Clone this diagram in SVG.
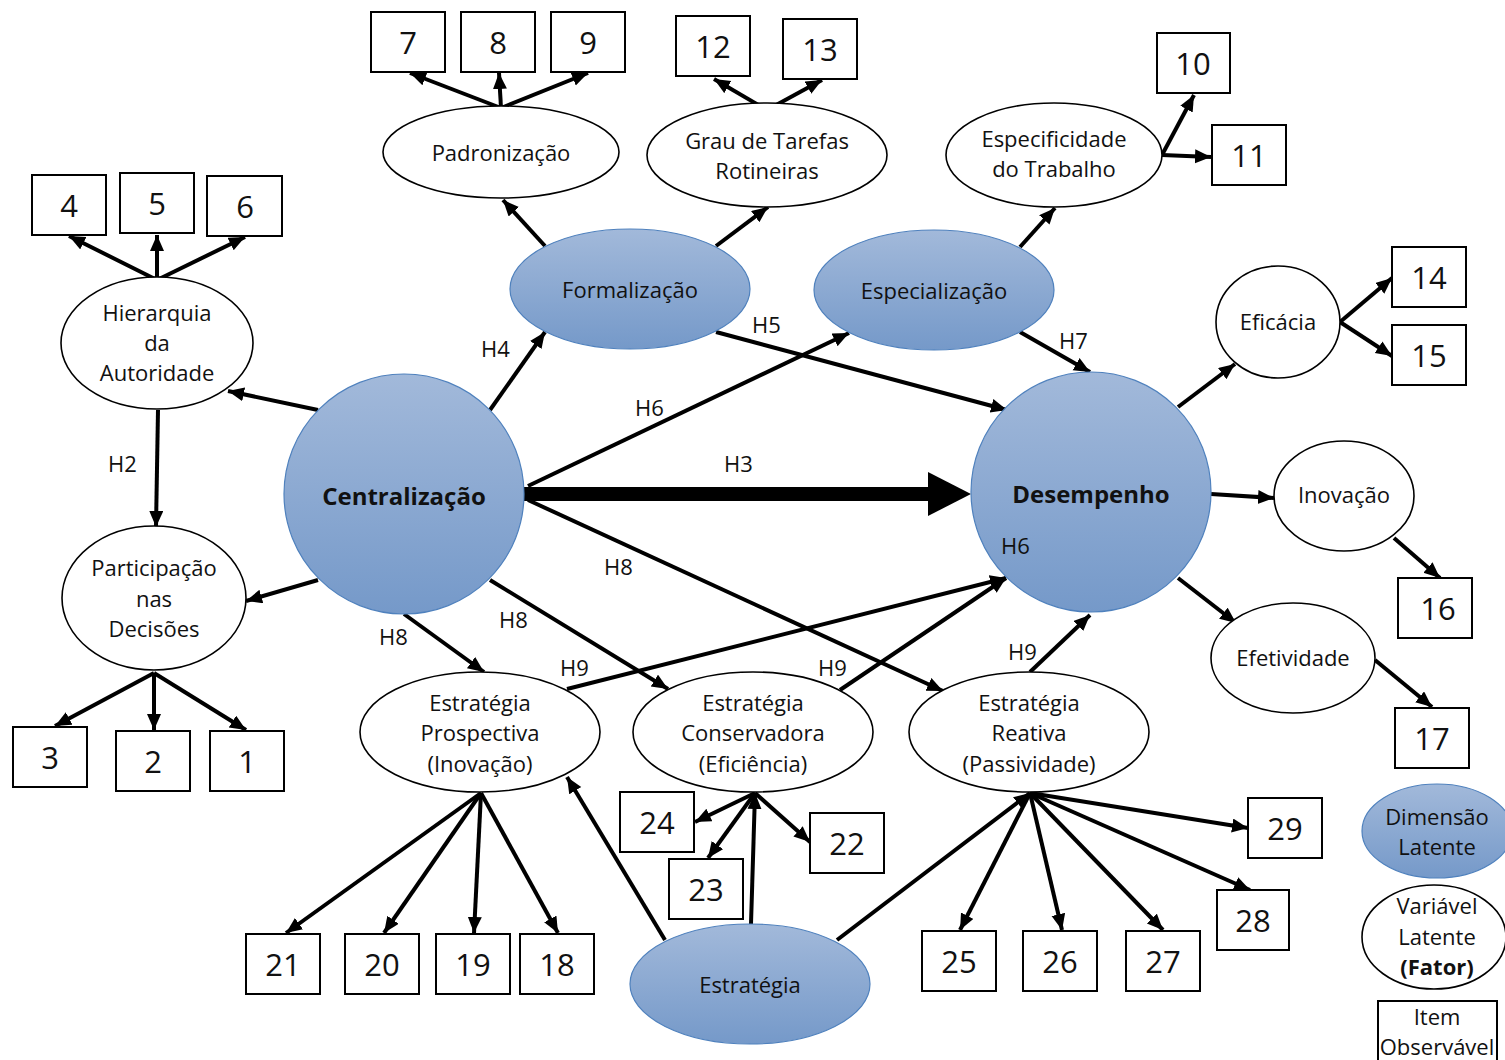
<svg xmlns="http://www.w3.org/2000/svg" width="1505" height="1060" viewBox="0 0 1505 1060">
<style>
.t{font-family:"Open Sans","Noto Sans","Liberation Sans",sans-serif;font-size:22px;fill:#111;text-anchor:middle;dominant-baseline:central}
.b{font-weight:bold;font-size:24px}
.n{font-size:31px}
.h{font-family:"Open Sans","Noto Sans","Liberation Sans",sans-serif;font-size:22px;fill:#111}
.lat{fill:url(#g);stroke:#4f81bd;stroke-width:1.2}
.var{fill:#fff;stroke:#000;stroke-width:1.6}
.box{fill:#fff;stroke:#000;stroke-width:2}
.c line{stroke:#000;stroke-width:4;fill:none;marker-end:url(#a)}
</style>
<defs>
<linearGradient id="g" x1="0" y1="0" x2="0" y2="1">
<stop offset="0" stop-color="#a2b9da"/>
<stop offset="1" stop-color="#7599c9"/>
</linearGradient>
<marker id="a" markerUnits="userSpaceOnUse" markerWidth="18" markerHeight="16" refX="16" refY="7" orient="auto">
<path d="M0,0 L16,7 L0,14 z" fill="#000"/>
</marker>
</defs>
<rect width="1505" height="1060" fill="#fff"/>

<g class="c" id="connectors">
<line x1="501" y1="108" x2="410" y2="73"/>
<line x1="501" y1="108" x2="499" y2="73"/>
<line x1="501" y1="108" x2="588" y2="73"/>
<line x1="767" y1="110" x2="714" y2="79"/>
<line x1="767" y1="110" x2="822" y2="80"/>
<line x1="1162" y1="155" x2="1194" y2="95"/>
<line x1="1162" y1="155" x2="1211" y2="157"/>
<line x1="157" y1="280" x2="69" y2="236"/>
<line x1="157" y1="280" x2="157" y2="235"/>
<line x1="157" y1="280" x2="245" y2="237"/>
<line x1="545" y1="246" x2="503" y2="200"/>
<line x1="716" y1="246" x2="768" y2="207"/>
<line x1="1020" y1="247" x2="1055" y2="208"/>
<line x1="318" y1="410" x2="228" y2="391"/>
<line x1="158" y1="410" x2="156" y2="527"/>
<line x1="318" y1="580" x2="246" y2="601"/>
<line x1="154" y1="673" x2="55" y2="726"/>
<line x1="154" y1="673" x2="154" y2="730"/>
<line x1="154" y1="673" x2="246" y2="730"/>
<line x1="490" y1="410" x2="545" y2="332"/>
<line x1="716" y1="332" x2="1007" y2="410"/>
<line x1="528" y1="486" x2="849" y2="333"/>
<line x1="1020" y1="332" x2="1090" y2="372"/>
<line x1="528" y1="500" x2="943" y2="691"/>
<line x1="490" y1="580" x2="668" y2="689"/>
<line x1="404" y1="614" x2="484" y2="672"/>
<line x1="567" y1="689" x2="1006" y2="578"/>
<line x1="840" y1="690" x2="1006" y2="578"/>
<line x1="1030" y1="672" x2="1090" y2="615"/>
<line x1="1178" y1="407" x2="1235" y2="364"/>
<line x1="1340" y1="322" x2="1392" y2="278"/>
<line x1="1340" y1="322" x2="1392" y2="356"/>
<line x1="1211" y1="494" x2="1274" y2="498"/>
<line x1="1394" y1="538" x2="1440" y2="578"/>
<line x1="1178" y1="578" x2="1236" y2="623"/>
<line x1="1375" y1="660" x2="1432" y2="707"/>
<line x1="481" y1="793" x2="286" y2="933"/>
<line x1="481" y1="793" x2="384" y2="933"/>
<line x1="481" y1="793" x2="474" y2="933"/>
<line x1="481" y1="793" x2="558" y2="933"/>
<line x1="665" y1="940" x2="567" y2="777"/>
<line x1="751" y1="924" x2="755" y2="793"/>
<line x1="755" y1="793" x2="695" y2="822"/>
<line x1="755" y1="793" x2="708" y2="858"/>
<line x1="755" y1="793" x2="810" y2="842"/>
<line x1="837" y1="940" x2="1030" y2="793"/>
<line x1="1030" y1="793" x2="960" y2="930"/>
<line x1="1030" y1="793" x2="1062" y2="930"/>
<line x1="1030" y1="793" x2="1163" y2="930"/>
<line x1="1030" y1="793" x2="1250" y2="890"/>
<line x1="1030" y1="793" x2="1248" y2="828"/>
<path d="M524,494 L932,494" stroke="#000" stroke-width="14" fill="none"/>
<path d="M928,472 L971,494 L928,516 z" fill="#000"/>
</g>

<g id="labels">
<text class="h" x="108" y="472">H2</text>
<text class="h" x="481" y="357">H4</text>
<text class="h" x="752" y="333">H5</text>
<text class="h" x="635" y="416">H6</text>
<text class="h" x="1059" y="349">H7</text>
<text class="h" x="724" y="472">H3</text>
<text class="h" x="604" y="575">H8</text>
<text class="h" x="499" y="628">H8</text>
<text class="h" x="379" y="645">H8</text>
<text class="h" x="560" y="676">H9</text>
<text class="h" x="818" y="676">H9</text>
<text class="h" x="1008" y="660">H9</text>
</g>

<g id="centralizacao"><circle class="lat" cx="404" cy="494" r="120"/><text class="t b" x="404" y="495">Centralização</text></g>
<g id="desempenho"><circle class="lat" cx="1091" cy="492" r="120"/><text class="t b" x="1091" y="493">Desempenho</text><text class="h" x="1001" y="554">H6</text></g>
<g id="formalizacao"><ellipse class="lat" cx="630" cy="289" rx="120" ry="60"/><text class="t" x="630" y="289">Formalização</text></g>
<g id="especializacao"><ellipse class="lat" cx="934" cy="290" rx="120" ry="60"/><text class="t" x="934" y="290">Especialização</text></g>
<g id="estrategia"><ellipse class="lat" cx="750" cy="984" rx="120" ry="60"/><text class="t" x="750" y="984">Estratégia</text></g>

<g id="padronizacao"><ellipse class="var" cx="501" cy="152" rx="118" ry="46"/><text class="t" x="501" y="152">Padronização</text></g>
<g id="grau"><ellipse class="var" cx="767" cy="155" rx="120" ry="52"/><text class="t" x="767" y="140">Grau de Tarefas</text><text class="t" x="767" y="170">Rotineiras</text></g>
<g id="especificidade"><ellipse class="var" cx="1054" cy="155" rx="108" ry="52"/><text class="t" x="1054" y="138">Especificidade</text><text class="t" x="1054" y="168">do Trabalho</text></g>
<g id="hierarquia"><ellipse class="var" cx="157" cy="343" rx="96" ry="66"/><text class="t" x="157" y="312">Hierarquia</text><text class="t" x="157" y="342">da</text><text class="t" x="157" y="372">Autoridade</text></g>
<g id="participacao"><ellipse class="var" cx="154" cy="598" rx="92" ry="72"/><text class="t" x="154" y="567">Participação</text><text class="t" x="154" y="598">nas</text><text class="t" x="154" y="628">Decisões</text></g>
<g id="eficacia"><ellipse class="var" cx="1278" cy="322" rx="62" ry="56"/><text class="t" x="1278" y="321">Eficácia</text></g>
<g id="inovacao"><ellipse class="var" cx="1344" cy="496" rx="70" ry="55"/><text class="t" x="1344" y="494">Inovação</text></g>
<g id="efetividade"><ellipse class="var" cx="1293" cy="658" rx="82" ry="55"/><text class="t" x="1293" y="657">Efetividade</text></g>
<g id="prospectiva"><ellipse class="var" cx="480" cy="732" rx="120" ry="60"/><text class="t" x="480" y="702">Estratégia</text><text class="t" x="480" y="732">Prospectiva</text><text class="t" x="480" y="763">(Inovação)</text></g>
<g id="conservadora"><ellipse class="var" cx="753" cy="732" rx="120" ry="60"/><text class="t" x="753" y="702">Estratégia</text><text class="t" x="753" y="732">Conservadora</text><text class="t" x="753" y="763">(Eficiência)</text></g>
<g id="reativa"><ellipse class="var" cx="1029" cy="732" rx="120" ry="60"/><text class="t" x="1029" y="702">Estratégia</text><text class="t" x="1029" y="732">Reativa</text><text class="t" x="1029" y="763">(Passividade)</text></g>

<g id="b7"><rect class="box" x="371" y="12" width="74" height="60"/><text class="t n" x="408" y="42">7</text></g>
<g id="b8"><rect class="box" x="461" y="12" width="74" height="60"/><text class="t n" x="498" y="42">8</text></g>
<g id="b9"><rect class="box" x="551" y="12" width="74" height="60"/><text class="t n" x="588" y="42">9</text></g>
<g id="b12"><rect class="box" x="676" y="16" width="74" height="60"/><text class="t n" x="713" y="46">12</text></g>
<g id="b13"><rect class="box" x="783" y="19" width="74" height="60"/><text class="t n" x="820" y="49">13</text></g>
<g id="b10"><rect class="box" x="1157" y="33" width="73" height="60"/><text class="t n" x="1193" y="63">10</text></g>
<g id="b11"><rect class="box" x="1212" y="125" width="74" height="60"/><text class="t n" x="1249" y="155">11</text></g>
<g id="b4"><rect class="box" x="32" y="175" width="74" height="60"/><text class="t n" x="69" y="205">4</text></g>
<g id="b5"><rect class="box" x="120" y="173" width="74" height="60"/><text class="t n" x="157" y="203">5</text></g>
<g id="b6"><rect class="box" x="207" y="176" width="75" height="60"/><text class="t n" x="245" y="206">6</text></g>
<g id="b14"><rect class="box" x="1392" y="247" width="74" height="60"/><text class="t n" x="1429" y="277">14</text></g>
<g id="b15"><rect class="box" x="1392" y="325" width="74" height="60"/><text class="t n" x="1429" y="355">15</text></g>
<g id="b16"><rect class="box" x="1398" y="578" width="74" height="60"/><text class="t n" x="1438" y="608">16</text></g>
<g id="b17"><rect class="box" x="1395" y="708" width="74" height="60"/><text class="t n" x="1432" y="738">17</text></g>
<g id="b3"><rect class="box" x="13" y="727" width="74" height="60"/><text class="t n" x="50" y="757">3</text></g>
<g id="b2"><rect class="box" x="116" y="731" width="74" height="60"/><text class="t n" x="153" y="761">2</text></g>
<g id="b1"><rect class="box" x="210" y="731" width="74" height="60"/><text class="t n" x="247" y="761">1</text></g>
<g id="b24"><rect class="box" x="620" y="792" width="74" height="60"/><text class="t n" x="657" y="822">24</text></g>
<g id="b23"><rect class="box" x="669" y="859" width="74" height="60"/><text class="t n" x="706" y="889">23</text></g>
<g id="b22"><rect class="box" x="810" y="813" width="74" height="60"/><text class="t n" x="847" y="843">22</text></g>
<g id="b29"><rect class="box" x="1248" y="798" width="74" height="60"/><text class="t n" x="1285" y="828">29</text></g>
<g id="b28"><rect class="box" x="1217" y="890" width="72" height="60"/><text class="t n" x="1253" y="920">28</text></g>
<g id="b21"><rect class="box" x="246" y="934" width="74" height="60"/><text class="t n" x="283" y="964">21</text></g>
<g id="b20"><rect class="box" x="345" y="934" width="74" height="60"/><text class="t n" x="382" y="964">20</text></g>
<g id="b19"><rect class="box" x="436" y="934" width="74" height="60"/><text class="t n" x="473" y="964">19</text></g>
<g id="b18"><rect class="box" x="520" y="934" width="74" height="60"/><text class="t n" x="557" y="964">18</text></g>
<g id="b25"><rect class="box" x="922" y="931" width="74" height="60"/><text class="t n" x="959" y="961">25</text></g>
<g id="b26"><rect class="box" x="1023" y="931" width="74" height="60"/><text class="t n" x="1060" y="961">26</text></g>
<g id="b27"><rect class="box" x="1126" y="931" width="74" height="60"/><text class="t n" x="1163" y="961">27</text></g>

<g id="legend-dimensao"><ellipse class="lat" cx="1437" cy="831" rx="75" ry="47"/><text class="t" x="1437" y="816">Dimensão</text><text class="t" x="1437" y="846">Latente</text></g>
<g id="legend-variavel"><ellipse class="var" cx="1434" cy="937" rx="72" ry="52"/><text class="t" x="1437" y="905">Variável</text><text class="t" x="1437" y="936">Latente</text><text class="t" x="1437" y="966" font-weight="bold">(Fator)</text></g>
<g id="legend-item"><rect class="box" x="1378" y="1001" width="119" height="62"/><text class="t" x="1437" y="1016">Item</text><text class="t" x="1437" y="1046">Observável</text></g>
</svg>
